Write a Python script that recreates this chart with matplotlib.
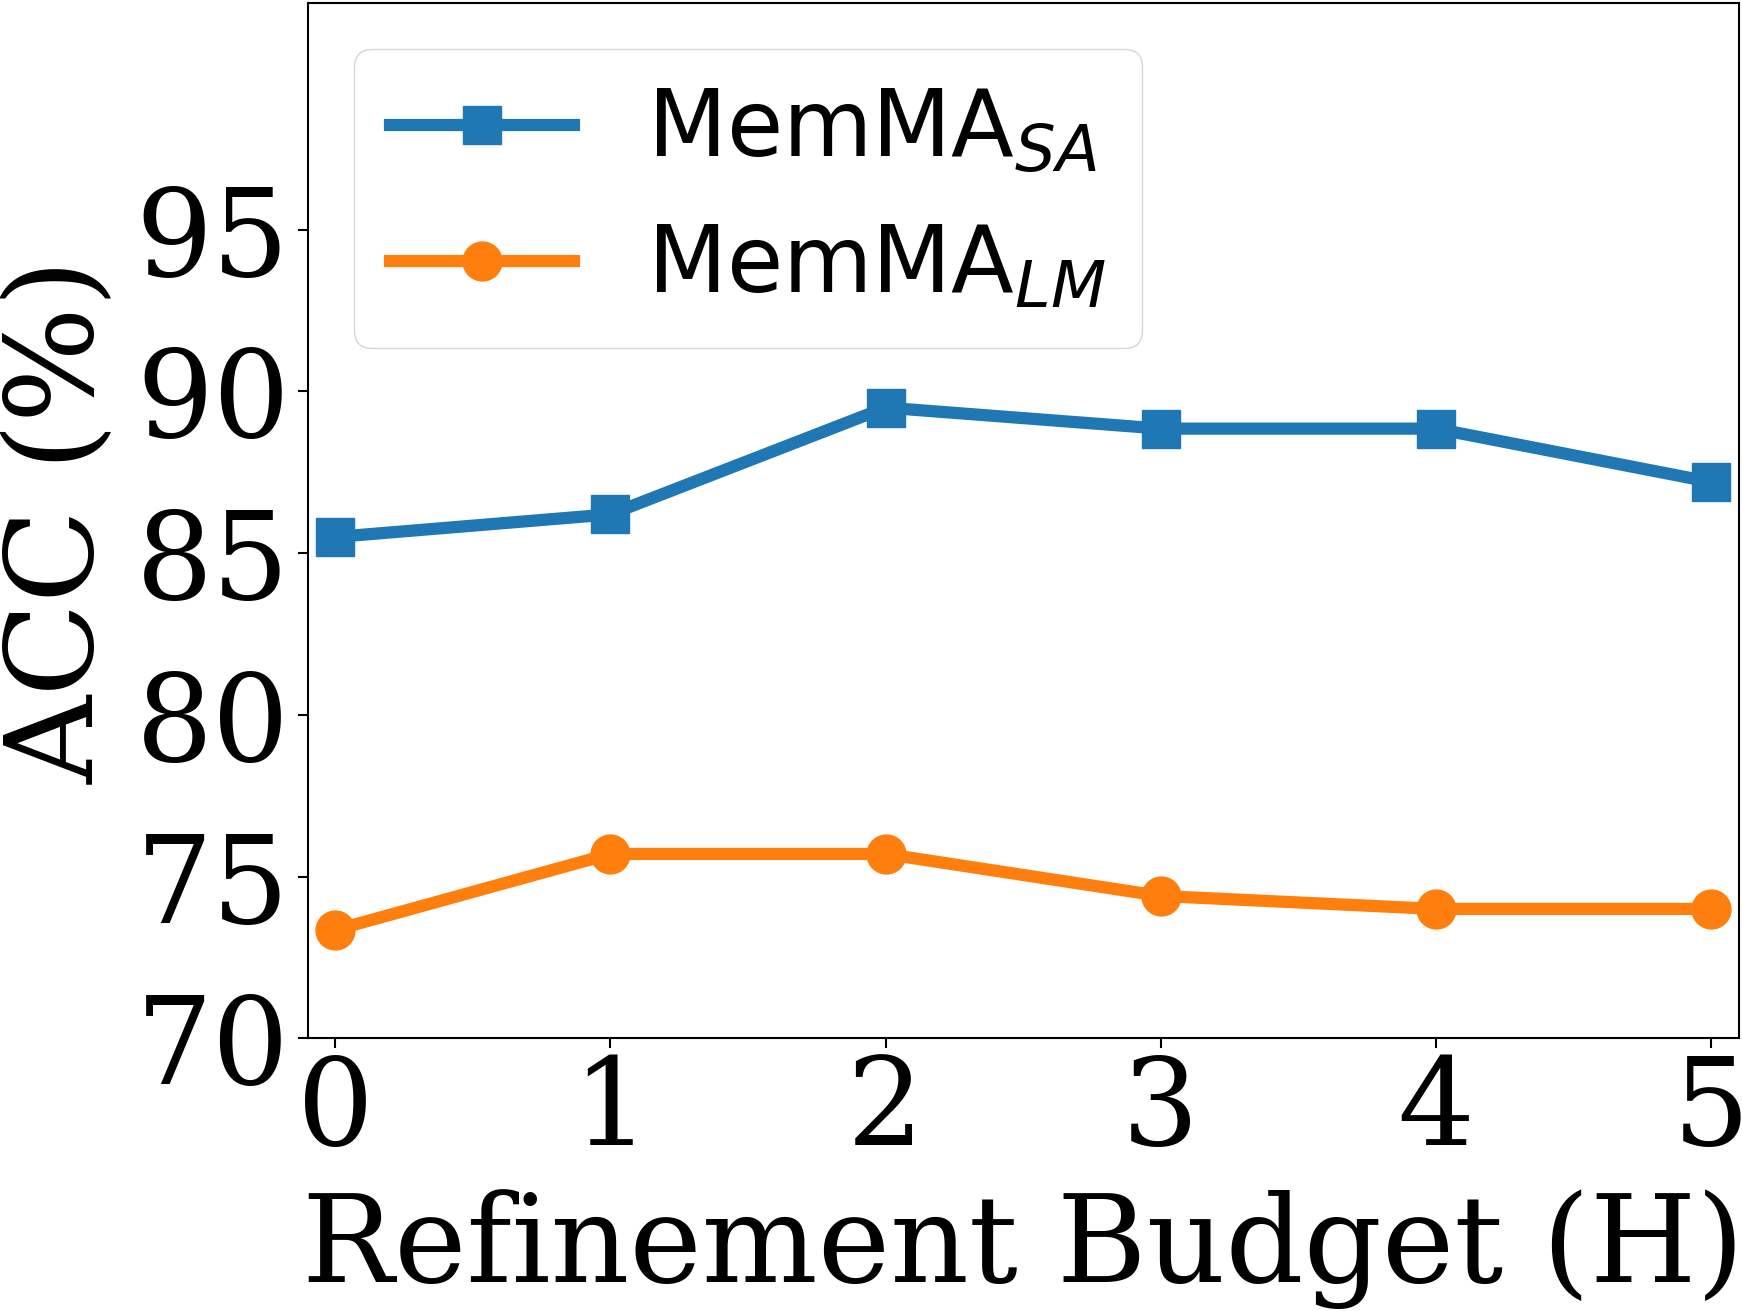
import matplotlib
matplotlib.use("Agg")
import matplotlib.pyplot as plt

# Refinement budget vs accuracy
budget = [0, 1, 2, 3, 4, 5]
acc_sa = [85.5, 86.2, 89.5, 88.85, 88.85, 87.2]
acc_lm = [73.35, 75.7, 75.7, 74.4, 74.0, 74.0]
yticks = [70, 75, 80, 85, 90, 95]

fig = plt.figure(figsize=(17.42, 13.11), dpi=100)
W, H = 1742, 1311
ax = fig.add_axes([307.7 / W, (H - 1038.3) / H, (1738.5 - 307.7) / W, (1038.3 - 3.3) / H])

ax.plot(budget, acc_sa, marker='s', color='#1f77b4', linewidth=8.8, markersize=28,
        label='MemMA$_{SA}$')
ax.plot(budget, acc_lm, marker='o', color='#ff7f0e', linewidth=8.8, markersize=28,
        label='MemMA$_{LM}$')

ax.set_xlim(-0.1, 5.1)
ax.set_ylim(70, 102)
ax.set_xticks(budget)
ax.set_yticks(yticks)
for s in ax.spines.values():
    s.set_linewidth(1.5)
ax.tick_params(axis='both', length=7, width=1.5, labelsize=87)
ax.tick_params(axis='y', pad=6)
for lab in ax.get_xticklabels() + ax.get_yticklabels():
    lab.set_family('DejaVu Serif')

ax.set_xlabel('Refinement Budget (H)', fontsize=88, family='DejaVu Serif', labelpad=14)
ax.set_ylabel('ACC (%)', fontsize=88, family='DejaVu Serif', labelpad=12)

ax.legend(loc='upper left', fontsize=66)

fig.savefig('out.png', dpi=100)
